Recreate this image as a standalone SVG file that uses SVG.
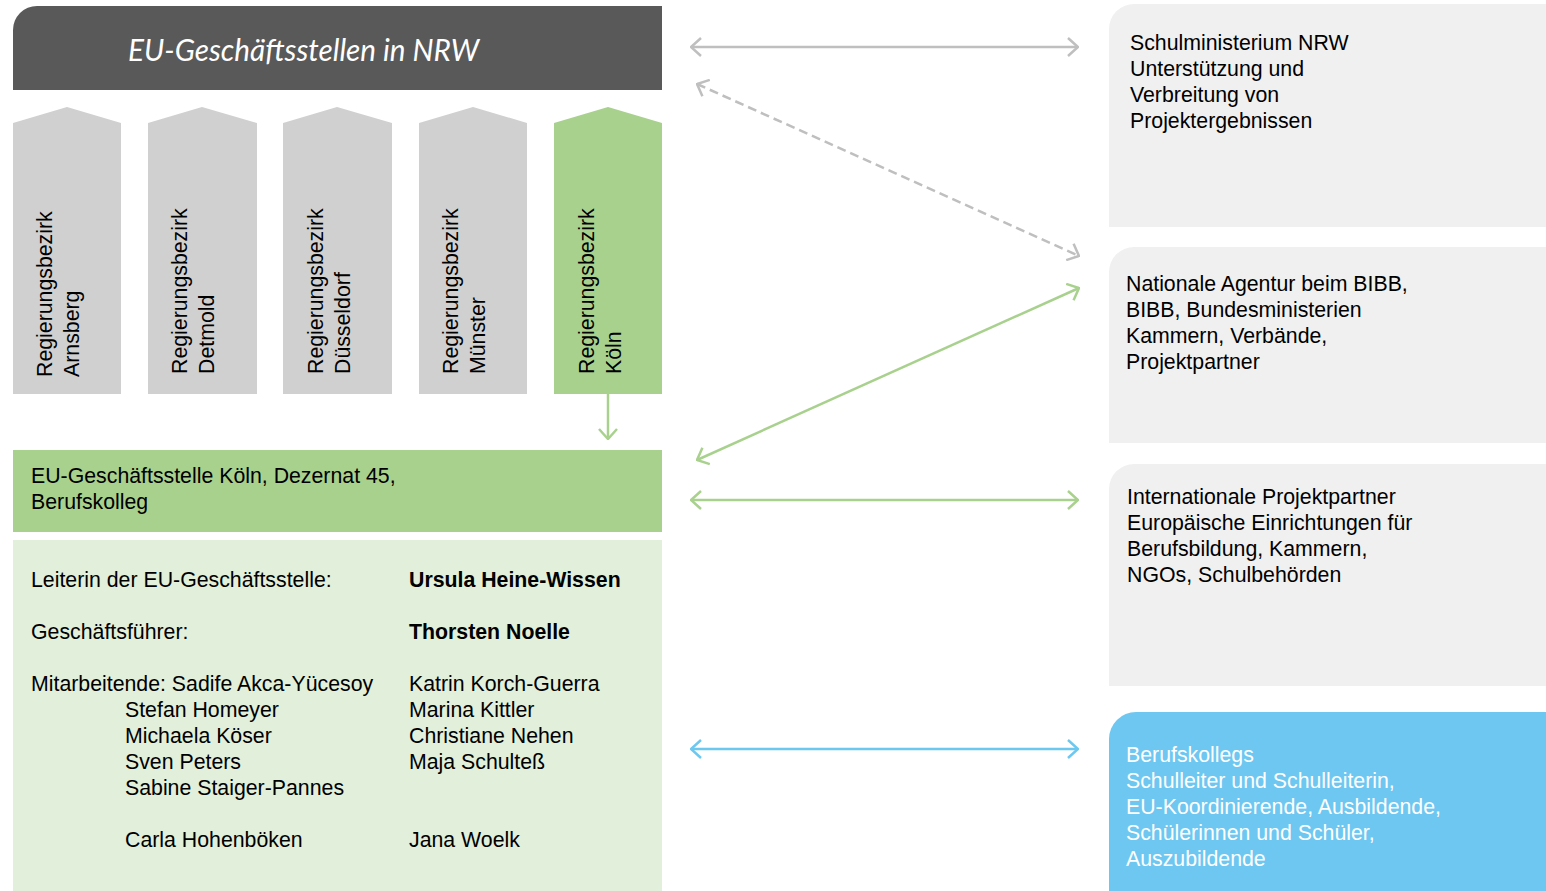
<svg xmlns="http://www.w3.org/2000/svg" width="1546" height="891" viewBox="0 0 1546 891">
<style>
  .t { font-family: "Liberation Sans", Arial, sans-serif; font-size: 21.3px; fill: #000; }
  .b { font-weight: bold; }
  .w { fill: #fff; }
  .title { font-family: Lato, "Open Sans", sans-serif; font-style: italic; font-size: 30px; fill: #fff; }
  .pent { fill: #d0d0d0; }
  .pentg { fill: #a9d18e; }
  .rbox { fill: #f0f0f0; }
  .ln { fill: none; stroke-width: 2.5; }
  .grey { stroke: #bfbfbf; }
  .green { stroke: #a9d18e; }
  .blue { stroke: #6dc8f0; }
</style>
<defs>
  <marker id="mGrey" viewBox="0 0 12 20" refX="11" refY="10" markerWidth="12" markerHeight="20" markerUnits="userSpaceOnUse" orient="auto-start-reverse">
    <path d="M1,1 L11,10 L1,19" fill="none" stroke="#bfbfbf" stroke-width="2.5"/>
  </marker>
  <marker id="mGreen" viewBox="0 0 12 20" refX="11" refY="10" markerWidth="12" markerHeight="20" markerUnits="userSpaceOnUse" orient="auto-start-reverse">
    <path d="M1,1 L11,10 L1,19" fill="none" stroke="#a9d18e" stroke-width="2.5"/>
  </marker>
  <marker id="mBlue" viewBox="0 0 12 20" refX="11" refY="10" markerWidth="12" markerHeight="20" markerUnits="userSpaceOnUse" orient="auto-start-reverse">
    <path d="M1,1 L11,10 L1,19" fill="none" stroke="#6dc8f0" stroke-width="2.5"/>
  </marker>
</defs>

<g id="title">
  <path d="M13,30 A24,24 0 0 1 37,6 H662 V90 H13 Z" fill="#595959"/>
  <text class="title" x="128" y="61" textLength="351" lengthAdjust="spacingAndGlyphs">EU-Geschäftsstellen in NRW</text>
</g>

<g id="rb-arnsberg">
  <path class="pent" d="M13,123 L67,107 L121,123 V394 H13 Z"/>
  <text class="t" transform="translate(52,377) rotate(-90)">Regierungsbezirk<tspan x="0" dy="26.5">Arnsberg</tspan></text>
</g>
<g id="rb-detmold">
  <path class="pent" d="M148,123 L202,107 L257,123 V394 H148 Z"/>
  <text class="t" transform="translate(187,374) rotate(-90)">Regierungsbezirk<tspan x="0" dy="26.5">Detmold</tspan></text>
</g>
<g id="rb-duesseldorf">
  <path class="pent" d="M283,123 L337,107 L392,123 V394 H283 Z"/>
  <text class="t" transform="translate(323,374) rotate(-90)">Regierungsbezirk<tspan x="0" dy="26.5">Düsseldorf</tspan></text>
</g>
<g id="rb-muenster">
  <path class="pent" d="M419,123 L473,107 L527,123 V394 H419 Z"/>
  <text class="t" transform="translate(458,374) rotate(-90)">Regierungsbezirk<tspan x="0" dy="26.5">Münster</tspan></text>
</g>
<g id="rb-koeln">
  <path class="pentg" d="M554,123 L608,107 L662,123 V394 H554 Z"/>
  <text class="t" transform="translate(594,374) rotate(-90)">Regierungsbezirk<tspan x="0" dy="26.5">Köln</tspan></text>
</g>

<g id="eu-koeln">
  <rect x="13" y="450" width="649" height="82" fill="#a9d18e"/>
  <text class="t" x="31" y="483">EU-Geschäftsstelle Köln, Dezernat 45,</text>
  <text class="t" x="31" y="509">Berufskolleg</text>
</g>

<g id="staff">
  <rect x="13" y="540" width="649" height="351" fill="#e2efda"/>
  <text class="t" x="31" y="587">Leiterin der EU-Geschäftsstelle:</text>
  <text class="t b" x="409" y="587">Ursula Heine-Wissen</text>
  <text class="t" x="31" y="639">Geschäftsführer:</text>
  <text class="t b" x="409" y="639">Thorsten Noelle</text>
  <text class="t" x="31" y="691">Mitarbeitende: Sadife Akca-Yücesoy</text>
  <text class="t" x="125" y="717">Stefan Homeyer</text>
  <text class="t" x="125" y="743">Michaela Köser</text>
  <text class="t" x="125" y="769">Sven Peters</text>
  <text class="t" x="125" y="795">Sabine Staiger-Pannes</text>
  <text class="t" x="125" y="847">Carla Hohenböken</text>
  <text class="t" x="409" y="691">Katrin Korch-Guerra</text>
  <text class="t" x="409" y="717">Marina Kittler</text>
  <text class="t" x="409" y="743">Christiane Nehen</text>
  <text class="t" x="409" y="769">Maja Schulteß</text>
  <text class="t" x="409" y="847">Jana Woelk</text>
</g>

<g id="schulministerium">
  <path class="rbox" d="M1109,29 A25,25 0 0 1 1134,4 H1546 V227 H1109 Z"/>
  <text class="t" x="1130" y="50">Schulministerium NRW</text>
  <text class="t" x="1130" y="76">Unterstützung und</text>
  <text class="t" x="1130" y="102">Verbreitung von</text>
  <text class="t" x="1130" y="128">Projektergebnissen</text>
</g>
<g id="nationale-agentur">
  <path class="rbox" d="M1109,272 A25,25 0 0 1 1134,247 H1546 V443 H1109 Z"/>
  <text class="t" x="1126" y="291">Nationale Agentur beim BIBB,</text>
  <text class="t" x="1126" y="317">BIBB, Bundesministerien</text>
  <text class="t" x="1126" y="343">Kammern, Verbände,</text>
  <text class="t" x="1126" y="369">Projektpartner</text>
</g>
<g id="international">
  <path class="rbox" d="M1109,489 A25,25 0 0 1 1134,464 H1546 V686 H1109 Z"/>
  <text class="t" x="1127" y="504">Internationale Projektpartner</text>
  <text class="t" x="1127" y="530">Europäische Einrichtungen für</text>
  <text class="t" x="1127" y="556">Berufsbildung, Kammern,</text>
  <text class="t" x="1127" y="582">NGOs, Schulbehörden</text>
</g>
<g id="berufskollegs">
  <path d="M1109,739 A27,27 0 0 1 1136,712 H1546 V891 H1109 Z" fill="#6dc7f1"/>
  <text class="t w" x="1126" y="762">Berufskollegs</text>
  <text class="t w" x="1126" y="788">Schulleiter und Schulleiterin,</text>
  <text class="t w" x="1126" y="814">EU-Koordinierende, Ausbildende,</text>
  <text class="t w" x="1126" y="840">Schülerinnen und Schüler,</text>
  <text class="t w" x="1126" y="866">Auszubildende</text>
</g>

<g id="connectors">
  <line class="ln grey" x1="691" y1="47" x2="1078" y2="47" marker-start="url(#mGrey)" marker-end="url(#mGrey)"/>
  <line class="ln grey" x1="697" y1="84" x2="1079" y2="256" stroke-dasharray="9 5" marker-start="url(#mGrey)" marker-end="url(#mGrey)"/>
  <line class="ln green" x1="697" y1="460" x2="1079" y2="288" marker-start="url(#mGreen)" marker-end="url(#mGreen)"/>
  <line class="ln green" x1="691" y1="500" x2="1078" y2="500" marker-start="url(#mGreen)" marker-end="url(#mGreen)"/>
  <line class="ln blue" x1="691" y1="749" x2="1078" y2="749" marker-start="url(#mBlue)" marker-end="url(#mBlue)"/>
  <line class="ln green" x1="608" y1="394" x2="608" y2="439" marker-end="url(#mGreen)"/>
</g>
</svg>
